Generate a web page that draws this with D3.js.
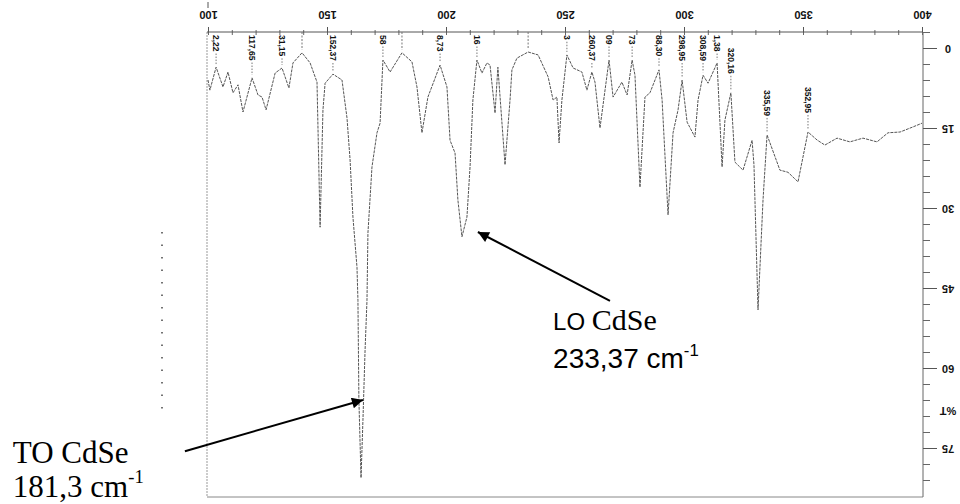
<!DOCTYPE html>
<html><head><meta charset="utf-8">
<script src="https://cdn.jsdelivr.net/npm/d3@7"></script>
<style>body{margin:0;background:#fff}</style>
</head><body>
<svg id="c" width="960" height="504"></svg>
<script>
// ---- data ----
const wavenumber = [100.0,100.8,103.4,106.3,108.4,110.5,112.6,114.7,118.5,121.0,122.7,124.4,128.2,131.1,134.0,135.7,139.5,142.9,145.8,147.1,148.3,149.2,152.5,156.3,158.4,159.7,160.9,162.6,163.0,163.4,164.3,165.1,166.0,166.8,167.2,168.9,171.0,172.3,173.5,176.5,181.5,185.7,187.8,189.9,192.4,197.5,200.4,201.7,203.8,205.0,206.7,208.8,210.1,211.3,213.0,215.1,217.2,218.5,220.6,221.8,224.8,226.9,227.7,229.8,234.5,238.7,242.9,245.0,246.6,247.5,248.7,250.8,253.4,257.1,259.2,261.3,262.6,264.7,268.5,270.2,273.9,276.1,278.2,279.4,281.5,283.6,285.7,289.5,290.8,293.3,295.4,297.5,299.2,301.3,304.6,305.9,308.0,310.1,312.2,313.9,316.0,317.2,319.7,321.4,324.8,328.6,329.4,331.1,333.2,334.9,340.3,343.7,347.9,352.1,355.9,359.2,364.3,369.7,375.2,381.1,385.7,390.8,396.2,400.0];
const transmittance = [6.0,7.9,3.6,7.3,4.5,8.4,6.9,12.0,5.6,8.8,9.2,11.6,4.7,3.75,7.5,2.8,0.9,2.8,6.4,33.6,11.6,6.6,4.9,6.0,13.1,21.0,31.7,41.1,47.3,66.0,80.6,69.8,56.6,47.3,34.7,22.3,15.9,14.1,2.25,4.5,0.9,2.6,7.3,15.9,9.2,3.2,7.3,17.3,19.7,28.5,35.4,31.7,22.3,9.75,2.25,4.7,2.8,3.2,12.2,3.6,21.9,9.75,4.1,1.9,0.75,1.3,5.4,9.75,9.2,17.8,9.75,1.3,3.75,4.5,7.9,4.5,6.4,15.0,2.25,9.2,6.4,8.8,2.25,5.1,26.1,9.2,8.4,4.1,9.75,31.3,15.9,11.6,6.0,13.9,16.7,9.75,5.1,6.6,4.5,2.8,22.3,13.5,8.4,21.4,22.9,17.3,21.9,49.1,28.5,16.3,22.9,23.3,25.1,15.75,17.25,18.2,16.9,17.6,16.9,17.6,15.9,15.75,14.8,14.1];
const xTickValues = [100,150,200,250,300,350,400];
const yTickValues = [0,15,30,45,60,75];
const peakWn   = [103.4,118.5,131.1,152.5,173.5,197.5,213.0,250.8,261.3,268.5,278.2,289.5,299.2,308.0,313.9,319.7,334.9,352.1];
const peakText = ["2,22","117,65","31,15","152,37","58","8,73","16","3","260,37","09","73","88,30","298,95","308,59","1,38","320,16","335,59","352,95"];
const markerWn = [139.5,181.5,234.5];
const annotations = [
  {lines:[["LO ","sans",24],["CdSe","serif",30]], line2:"233,37 cm", sup:"-1", font2:"sans", size2:28, tx:245.0, tv:52.9, ax0:268.9, av0:47.4, ax1:213.4, av1:34.5},
  {lines:[["TO CdSe","serif",31]], line2:"181,3 cm", sup:"-1", font2:"serif", size2:31, tx:18.0, tv:77.8, ax0:90.3, av0:75.6, ax1:165.1, av1:66.0}
];

// ---- scales ----
const x = d3.scaleLinear().domain([100,400]).range([208,922]);
const y = d3.scaleLinear().domain([0,75]).range([48,448]);
const svg = d3.select("#c");
const axisY = 32, bottomY = 497, leftX = 207, rightX = 923;
const SANS = "'Liberation Sans', Arial, sans-serif";
const SERIF = "'Liberation Serif', 'Times New Roman', serif";

// frame (scan borders)
svg.append("line").attr("x1",leftX).attr("x2",leftX).attr("y1",axisY).attr("y2",bottomY)
  .attr("stroke","#999").attr("stroke-width",1).attr("stroke-dasharray","2,1");
svg.append("line").attr("x1",leftX).attr("x2",rightX).attr("y1",bottomY).attr("y2",bottomY)
  .attr("stroke","#888").attr("stroke-width",1);
svg.append("line").attr("x1",208).attr("x2",208).attr("y1",2).attr("y2",8).attr("stroke","#555");
// dotted scan artefact on the left
svg.append("line").attr("x1",162).attr("x2",162).attr("y1",232).attr("y2",410)
  .attr("stroke","#444").attr("stroke-width",1.5).attr("stroke-dasharray","1.5,11");

// top axis
const topMinor = svg.append("g").attr("transform",`translate(0,${axisY})`)
  .call(d3.axisTop(x).tickValues(d3.range(100,401,10)).tickSize(3).tickFormat(""));
topMinor.selectAll(".tick line").attr("y2",3).attr("y1",-2).attr("stroke","#666");
topMinor.select(".domain").remove();
const topAxis = svg.append("g").attr("transform",`translate(0,${axisY})`)
  .call(d3.axisTop(x).tickValues(xTickValues).tickSize(5).tickSizeOuter(0));
topAxis.select(".domain").attr("stroke","#555").attr("d",`M${leftX},0H${rightX}`);
topAxis.selectAll(".tick line").attr("stroke","#555");
topAxis.selectAll(".tick text")
  .attr("y",-17).attr("dy","0.35em")
  .attr("transform","rotate(180 0 -17)")
  .style("font-family",SANS).style("font-weight","bold").style("font-size","11px").attr("fill","#111");

// right axis
const rMinor = svg.append("g").attr("transform",`translate(${rightX},0)`)
  .call(d3.axisRight(y).tickValues(d3.range(-3,82,3)).tickSize(7).tickFormat(""));
rMinor.select(".domain").attr("stroke","#666").attr("d",`M0,${axisY}V${bottomY}`);
rMinor.selectAll(".tick line").attr("stroke","#666");
const rAxis = svg.append("g").attr("transform",`translate(${rightX},0)`)
  .call(d3.axisRight(y).tickValues(yTickValues).tickSize(14));
rAxis.select(".domain").remove();
rAxis.selectAll(".tick line").attr("stroke","#555");
rAxis.selectAll(".tick text")
  .attr("x",0).attr("dy","0")
  .attr("transform","translate(25,0) rotate(180)")
  .attr("text-anchor","middle").attr("dominant-baseline","central")
  .style("font-family",SANS).style("font-weight","bold").style("font-size","11px").attr("fill","#111");
svg.append("text").attr("transform",`translate(${rightX+25},${y(68)}) rotate(180)`)
  .attr("text-anchor","middle").attr("dominant-baseline","central")
  .style("font-family",SANS).style("font-weight","bold").style("font-size","11px").attr("fill","#111")
  .text("%T");

// spectrum line
const pts = wavenumber.map((w,i)=>[w,transmittance[i]]);
svg.append("path").datum(pts)
  .attr("d", d3.line().x(d=>x(d[0])).y(d=>y(d[1])))
  .attr("fill","none").attr("stroke","#555").attr("stroke-width",1)
  .attr("stroke-dasharray","3,1").attr("stroke-linejoin","round");

function valueAt(w){
  const i = d3.bisector(d=>d[0]).left(pts,w);
  if(i<=0) return pts[0][1];
  if(i>=pts.length) return pts[pts.length-1][1];
  const a=pts[i-1], b=pts[i];
  return a[1] + (b[1]-a[1])*(w-a[0])/(b[0]-a[0]);
}

// unlabelled markers
markerWn.forEach(w=>{
  svg.append("line").attr("x1",x(w)).attr("x2",x(w)).attr("y1",axisY).attr("y2",y(valueAt(w))-3)
    .attr("stroke","#777").attr("stroke-width",1).attr("stroke-dasharray","2,1.5");
});

// peak labels
peakWn.forEach((w,i)=>{
  const px = x(w), py = y(valueAt(w));
  const top = Math.max(axisY+3, py-45);
  const t = svg.append("text").attr("transform",`translate(${px},${top}) rotate(90)`)
    .attr("dominant-baseline","central")
    .style("font-family",SANS).style("font-weight","bold").style("font-size","8.5px")
    .attr("fill","#111").text(peakText[i]);
  const len = t.node().getComputedTextLength();
  if(top+len+2 < py-3){
    svg.append("line").attr("x1",px).attr("x2",px).attr("y1",top+len+2).attr("y2",py-3)
      .attr("stroke","#777").attr("stroke-width",1).attr("stroke-dasharray","1.5,1.5");
  }
});

// annotations
svg.append("defs").append("marker").attr("id","ah").attr("viewBox","0 0 10 10")
  .attr("refX",10).attr("refY",5).attr("markerWidth",16).attr("markerHeight",11)
  .attr("markerUnits","userSpaceOnUse").attr("orient","auto")
  .append("path").attr("d","M0,0L10,5L0,10Z").attr("fill","#000");
annotations.forEach(a=>{
  svg.append("line").attr("x1",x(a.ax0)).attr("y1",y(a.av0)).attr("x2",x(a.ax1)).attr("y2",y(a.av1))
    .attr("stroke","#000").attr("stroke-width",2).attr("marker-end","url(#ah)");
  const t1 = svg.append("text").attr("x",x(a.tx)).attr("y",y(a.tv)).attr("fill","#000");
  a.lines.forEach(l=>{
    t1.append("tspan").style("font-family",l[1]==="serif"?SERIF:SANS).style("font-size",l[2]+"px")
      .attr("xml:space","preserve").text(l[0]);
  });
  const y2 = y(a.tv) + (a.font2==="serif"?34:38);
  const t2 = svg.append("text").attr("x",x(a.tx)).attr("y",y2).attr("fill","#000")
    .style("font-family",a.font2==="serif"?SERIF:SANS).style("font-size",a.size2+"px");
  t2.append("tspan").text(a.line2);
  t2.append("tspan").attr("dy",-a.size2*0.45).style("font-size",(a.size2*0.6)+"px").text(a.sup);
});
</script>
</body></html>
